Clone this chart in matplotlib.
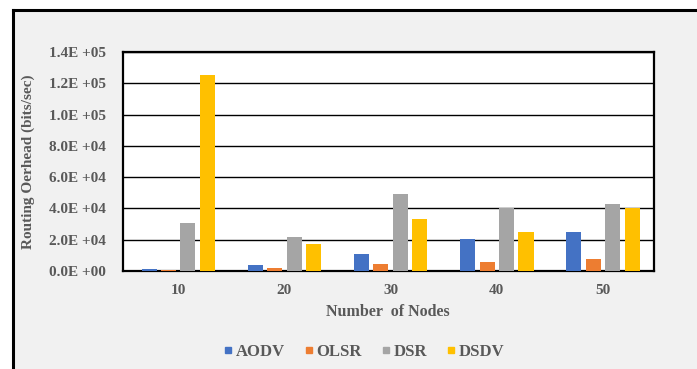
import matplotlib
matplotlib.use("Agg")
import matplotlib.pyplot as plt
import numpy as np
from matplotlib.patches import Rectangle
from matplotlib.lines import Line2D

nodes = ["10", "20", "30", "40", "50"]
aodv = [1500, 4000, 11000, 20500, 25000]
olsr = [500, 2000, 4500, 6000, 7500]
dsr = [31000, 22000, 49500, 40500, 43000]
dsdv = [125000, 17500, 33000, 25000, 40000]
series = [("AODV", aodv, "#4472C4"), ("OLSR", olsr, "#ED7D31"),
          ("DSR", dsr, "#A5A5A5"), ("DSDV", dsdv, "#FFC000")]
yticks = [0, 20000, 40000, 60000, 80000, 100000, 120000, 140000]
ytick_labels = ["0.0E +00", "2.0E +04", "4.0E +04", "6.0E +04", "8.0E +04",
                "1.0E +05", "1.2E +05", "1.4E +05"]

plt.rcParams['font.family'] = ['Liberation Serif', 'DejaVu Serif']
W, H = 697, 369
fig = plt.figure(figsize=(W/100, H/100), dpi=100, facecolor="white")

# outer chart area background and frame (left & top edges)
bg = Rectangle((13/W, 0), 1 - 13/W, 1 - 10/H, transform=fig.transFigure,
               facecolor="#f1f1f1", edgecolor="none", zorder=-10)
fig.patches.append(bg)
fig.add_artist(Line2D([13/W, 13/W], [0, 1 - 10/H], transform=fig.transFigure,
                      color="black", lw=2.2, zorder=-5))
fig.add_artist(Line2D([13/W, 1], [1 - 10/H, 1 - 10/H], transform=fig.transFigure,
                      color="black", lw=2.2, zorder=-5))

left, right, top, bottom = 123, 654, 52, 271
ax = fig.add_axes([left/W, 1 - bottom/H, (right-left)/W, (bottom-top)/H])
ax.set_zorder(5)
ax.set_facecolor("white")

x = np.arange(len(nodes))
step = 0.183
width = 0.142
for i, (name, vals, col) in enumerate(series):
    ax.bar(x + (i - 1.5) * step + 0.02, vals, width, color=col, label=name, zorder=3)

ax.set_xlim(-0.5, len(nodes) - 0.5)
ax.set_ylim(0, 140000)
ax.set_yticks(yticks)
ax.set_yticklabels(ytick_labels)
ax.set_xticks(x + 0.02)
ax.set_xticklabels(nodes)
ax.yaxis.grid(True, color="black", lw=1.0, zorder=1)
ax.set_axisbelow(True)
for s in ax.spines.values():
    s.set_color("black")
    s.set_linewidth(1.6)
ax.tick_params(axis="both", length=0, colors="#595959", labelsize=11)
ax.tick_params(axis="y", pad=12)
ax.tick_params(axis="x", pad=9)
for lab in ax.get_xticklabels() + ax.get_yticklabels():
    lab.set_fontweight("bold")

ax.set_ylabel("Routing Oerhead (bits/sec)", color="#595959", fontsize=11,
              fontweight="bold")
ax.yaxis.set_label_coords((35 - left) / (right - left), 0.5)
ax.set_xlabel("Number  of Nodes", color="#595959", fontsize=11.5, fontweight="bold")
ax.xaxis.set_label_coords((388 - left) / (right - left), -(304 - bottom) / (bottom - top))

handles = [Line2D([], [], marker="s", ls="none", color=c, markersize=5) for _, _, c in series]
leg = fig.legend(handles, [n for n, _, _ in series], loc="center",
                 bbox_to_anchor=(364/W, 1 - 352/H), ncol=4, frameon=False,
                 handlelength=0.5, handletextpad=0.2, columnspacing=1.2,
                 prop={"weight": "bold", "size": 12})
for t in leg.get_texts():
    t.set_color("#595959")

fig.savefig("out.png", dpi=100, facecolor=fig.get_facecolor())
